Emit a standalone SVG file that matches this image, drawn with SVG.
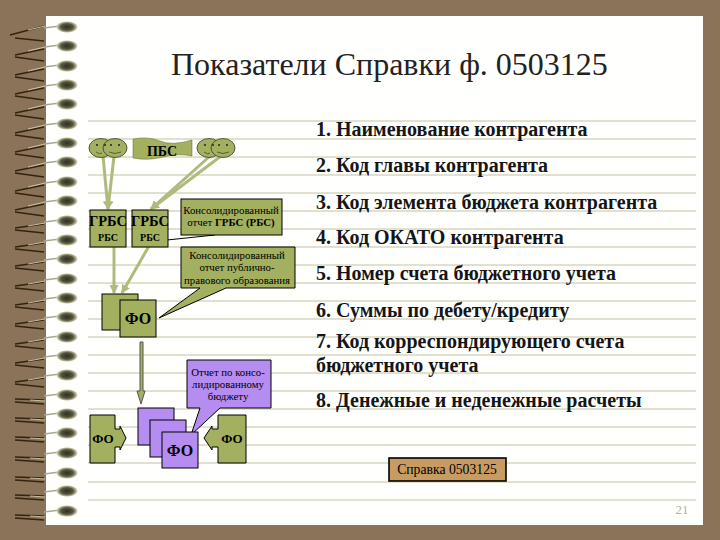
<svg xmlns="http://www.w3.org/2000/svg" width="720" height="540" viewBox="0 0 720 540">
<style>
.t{font-family:"Liberation Serif",serif;fill:#000}
.b{font-weight:bold;font-size:20px;fill:#151515}
.s{font-size:10.8px}
.g{fill:#a2b05f;stroke:#000;stroke-width:1}
.p{fill:#b58cf0;stroke:#000;stroke-width:1}
.ln{stroke:#aebb7c;stroke-width:3;fill:none}
.rule{stroke:#c4c2a0;stroke-width:1;fill:none}
.face{fill:#a2b05f;stroke:#3a3a2a;stroke-width:.8}
.mouth{fill:none;stroke:#3a3a2a;stroke-width:.7}
.wire{stroke:#a8a890;stroke-width:1.4;fill:none}
.dk{stroke:#33240f;stroke-width:1.3;fill:none}
.lt{stroke:#d9cdb0;stroke-width:.9;fill:none}
</style>
<defs>
<radialGradient id="bd"><stop offset="0" stop-color="#2f2f22"/><stop offset=".55" stop-color="#55553f"/><stop offset=".85" stop-color="#b8b896"/><stop offset="1" stop-color="#e8e8d4" stop-opacity=".3"/></radialGradient>
<marker id="ah" markerUnits="userSpaceOnUse" markerWidth="9" markerHeight="9" refX="8" refY="4.5" orient="auto"><path d="M0 0L9 4.5L0 9z" fill="#aebb7c"/></marker>
<g id="bead"><path class="wire" d="M44 0L60 -2"/><ellipse cx="67" cy="-1" rx="11" ry="6" fill="url(#bd)"/></g>
<g id="ra"><path class="dk" d="M44 2L15 8M15 10L44 14"/><path class="lt" d="M28 4L45 0"/><use href="#bead"/></g>
<g id="rb"><path class="dk" d="M44 2L15 6M15 8L44 11"/><path class="lt" d="M28 4L45 1"/><use href="#bead"/></g>
<g id="rc"><path class="dk" d="M44 4L15 3M15 6L44 8"/><path class="lt" d="M30 4L45 5"/><use href="#bead"/></g>
</defs>
<rect width="720" height="540" fill="#8b7359"/>
<rect x="46" y="16" width="657" height="509" fill="#fffffe"/>
<g id="rules">
<path class="rule" d="M88 121H696M88 139H696M88 157H696M88 175H696M88 193H696M88 211H696M88 229H696M88 247H696M88 265H696M88 283H696M88 301H696M88 319H696M88 337H696M88 355H696M88 373H696M88 391H696M88 409H696M88 427H696M88 445H696M88 463H696M88 482H696M88 500H696"/>
</g>
<g id="spiral">
<path class="dk" d="M44 26L10 35M15 38L44 41"/><path class="lt" d="M28 30L45 26"/><use href="#bead" y="28"/>
<use href="#ra" y="47"/><use href="#ra" y="67"/><use href="#ra" y="86"/><use href="#ra" y="105"/><use href="#ra" y="125"/><use href="#ra" y="144"/><use href="#ra" y="163"/><use href="#ra" y="183"/><use href="#ra" y="202"/><use href="#rb" y="222"/><use href="#rb" y="241"/><use href="#rb" y="260"/><use href="#rb" y="280"/><use href="#rb" y="299"/><use href="#rb" y="318"/><use href="#rb" y="338"/><use href="#rb" y="357"/><use href="#rb" y="376"/><use href="#rc" y="396"/><use href="#rc" y="415"/><use href="#rc" y="434"/><use href="#rc" y="454"/><use href="#rc" y="474"/><use href="#rc" y="492"/><use href="#rc" y="512"/>
</g>
<text class="t" x="171" y="75" font-size="32" style="fill:#222">Показатели Справки ф. 0503125</text>
<g id="list">
<text class="t b" x="316" y="136">1. Наименование контрагента</text>
<text class="t b" x="316" y="172">2. Код главы контрагента</text>
<text class="t b" x="316" y="209">3. Код элемента бюджета контрагента</text>
<text class="t b" x="316" y="244">4. Код ОКАТО контрагента</text>
<text class="t b" x="316" y="280">5. Номер счета бюджетного учета</text>
<text class="t b" x="316" y="317">6. Суммы по дебету/кредиту</text>
<text class="t b" x="316" y="348">7. Код корреспондирующего счета</text>
<text class="t b" x="316" y="372">бюджетного учета</text>
<text class="t b" x="316" y="407">8. Денежные и неденежные расчеты</text>
</g>
<g id="connectors">
<path class="ln" d="M103 156L108 209" marker-end="url(#ah)"/>
<path class="ln" d="M114 156L108 209" marker-end="url(#ah)"/>
<path class="ln" d="M210 156L151 209" marker-end="url(#ah)"/>
<path class="ln" d="M221 156L151 209" marker-end="url(#ah)"/>
<path class="ln" d="M114 246V293" marker-end="url(#ah)"/>
<path class="ln" d="M149 246L122 293" marker-end="url(#ah)"/>
<path d="M167 240L215 235" stroke="#000" stroke-width="1" fill="none"/>
<path d="M140 342H143V391H145L141 404L137 391H140z" fill="#a2b05f" stroke="#555"/>
</g>
<g id="smiley1"><ellipse cx="101" cy="148" rx="12" ry="9.5" class="face"/><ellipse cx="115" cy="148" rx="12" ry="9.5" class="face"/><circle cx="97" cy="145" r="1" fill="#222"/><circle cx="105" cy="145" r="1" fill="#222"/><circle cx="111" cy="145" r="1" fill="#222"/><circle cx="119" cy="145" r="1" fill="#222"/><path class="mouth" d="M96 152Q100 155 102 153M109 152Q115 155 121 152"/></g>
<g id="pbs"><path class="g" style="stroke:#5a6a30;stroke-width:.5" d="M133 139Q148 136 160 141T192 140V156Q178 153 163 157T133 158z"/><text class="t" x="162" y="156" font-size="14" font-weight="bold" text-anchor="middle">ПБС</text></g>
<g id="smiley2"><ellipse cx="209" cy="148" rx="12" ry="9.5" class="face"/><ellipse cx="223" cy="148" rx="12" ry="9.5" class="face"/><circle cx="205" cy="145" r="1" fill="#222"/><circle cx="213" cy="145" r="1" fill="#222"/><circle cx="219" cy="145" r="1" fill="#222"/><circle cx="227" cy="145" r="1" fill="#222"/><path class="mouth" d="M204 152Q208 155 210 153M217 152Q223 155 229 152"/></g>
<g id="grbs1"><rect class="g" x="90" y="210" width="36" height="37"/><text class="t" x="108" y="226" font-size="14.5" font-weight="bold" text-anchor="middle">ГРБС</text><text class="t" x="108" y="241" font-size="10" font-weight="bold" text-anchor="middle">РБС</text></g>
<g id="grbs2"><rect class="g" x="132" y="210" width="36" height="37"/><text class="t" x="150" y="226" font-size="14.5" font-weight="bold" text-anchor="middle">ГРБС</text><text class="t" x="150" y="241" font-size="10" font-weight="bold" text-anchor="middle">РБС</text></g>
<g id="callout1"><rect class="g" x="181" y="199" width="101" height="36"/><text class="t s" x="231" y="214" text-anchor="middle">Консолидированный</text><text class="t s" x="231" y="226" text-anchor="middle">отчет <tspan font-weight="bold">ГРБС (РБС)</tspan></text></g>
<g id="callout2"><path class="g" d="M181 247H295V288H226L159 318L200 288H181z"/><text class="t s" x="237" y="259" text-anchor="middle">Консолидированный</text><text class="t s" x="237" y="271" text-anchor="middle">отчет публично-</text><text class="t s" x="237" y="284" text-anchor="middle">правового образования</text></g>
<g id="fo1"><rect class="g" x="102" y="294" width="36" height="36"/><rect class="g" x="120" y="300" width="36" height="37"/><text class="t" x="138" y="324" font-size="16" font-weight="bold" text-anchor="middle">ФО</text></g>
<g id="callout3"><path class="p" d="M187 360H271V408H220L191 435L200 408H187z"/><text class="t s" x="228" y="376" text-anchor="middle">Отчет по консо-</text><text class="t s" x="228" y="388" text-anchor="middle">лидированному</text><text class="t s" x="228" y="400" text-anchor="middle">бюджету</text></g>
<g id="fo-stack"><rect class="p" x="138" y="408" width="36" height="37"/><rect class="p" x="150" y="420" width="36" height="37"/><rect class="p" x="162" y="432" width="36" height="36"/><text class="t" x="180" y="456" font-size="16" font-weight="bold" text-anchor="middle">ФО</text></g>
<g id="fo-left"><path class="g" d="M90 415H115V429H120V426L126 438L120 450V447H115V463H90z"/><text class="t" x="103" y="443" font-size="13" font-weight="bold" text-anchor="middle">ФО</text></g>
<g id="fo-right"><path class="g" d="M246 415H218V429H212V426L204 438L212 450V447H218V463H246z"/><text class="t" x="232" y="443" font-size="13" font-weight="bold" text-anchor="middle">ФО</text></g>
<g id="spravka"><rect x="389" y="458" width="117" height="23" fill="#c89b63" stroke="#000" stroke-width="1.6"/><text class="t" x="447" y="474" font-size="13.7" text-anchor="middle">Справка 0503125</text></g>
<text class="t" x="682" y="514" font-size="13" text-anchor="middle" style="fill:#b5b59a">21</text>
</svg>
